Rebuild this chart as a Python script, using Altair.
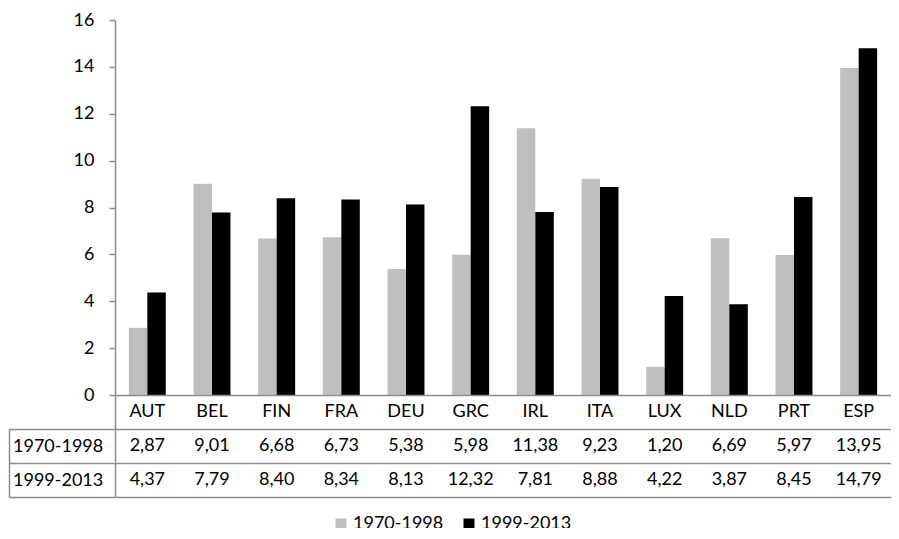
import altair as alt
import pandas as pd

countries = ["AUT", "BEL", "FIN", "FRA", "DEU", "GRC", "IRL", "ITA", "LUX", "NLD", "PRT", "ESP"]
series = ["1970-1998", "1999-2013"]
values_1970_1998 = [2.87, 9.01, 6.68, 6.73, 5.38, 5.98, 11.38, 9.23, 1.20, 6.69, 5.97, 13.95]
values_1999_2013 = [4.37, 7.79, 8.40, 8.34, 8.13, 12.32, 7.81, 8.88, 4.22, 3.87, 8.45, 14.79]
y_ticks = [0, 2, 4, 6, 8, 10, 12, 14, 16]
colors = ["#BFBFBF", "#000000"]

rows = []
for s, vals in zip(series, [values_1970_1998, values_1999_2013]):
    for c, v in zip(countries, vals):
        rows.append({"country": c, "series": s, "row": s, "value": v})
df = pd.DataFrame(rows)
hdr = pd.DataFrame({"country": countries, "row": ["hdr"] * len(countries)})
table_rows = ["hdr"] + series

FONT = "Lato"
FS = 18
GRID = "#8C8C8C"
LW = 1.5
VIEW_W = 776
ROW_H = 34

x_scale = alt.Scale(domain=countries, paddingInner=0, paddingOuter=0)
row_scale = alt.Scale(domain=table_rows, paddingInner=0, paddingOuter=0)

bars = alt.Chart(df).mark_bar().encode(
    x=alt.X("country:N", sort=countries, scale=x_scale, title=None, axis=None),
    xOffset=alt.XOffset("series:N", sort=series,
                        scale=alt.Scale(domain=series, paddingOuter=0.75, paddingInner=0)),
    y=alt.Y("value:Q", scale=alt.Scale(domain=[0, 16], nice=False), title=None,
            axis=alt.Axis(values=y_ticks, grid=False, domainColor=GRID, domainWidth=LW,
                          tickColor=GRID, tickWidth=LW, tickSize=6, labelPadding=15,
                          labelFontSize=FS, labelFont=FONT, labelColor="black")),
    color=alt.Color("series:N", sort=series,
                    scale=alt.Scale(domain=series, range=colors),
                    legend=alt.Legend(title=None, orient="none", direction="horizontal",
                                      legendX=217, legendY=495, symbolType="square",
                                      symbolSize=121, symbolStrokeWidth=0,
                                      labelFontSize=FS, labelFont=FONT, labelColor="black",
                                      columnPadding=16, labelOffset=3)),
).properties(width=VIEW_W, height=375)

# header row (country names) + table borders
hdr_text = alt.Chart(hdr).mark_text(fontSize=FS, font=FONT, color="black").encode(
    x=alt.X("country:N", sort=countries, scale=x_scale, title=None,
            axis=alt.Axis(orient="bottom", grid=True, gridColor=GRID, gridWidth=LW,
                          bandPosition=0, tickExtra=False, domain=False, ticks=False,
                          labels=False)),
    y=alt.Y("row:N", sort=table_rows, scale=row_scale, title=None,
            axis=alt.Axis(orient="left", grid=True, gridColor=GRID, gridWidth=LW,
                          tickBand="extent", domain=True, domainColor=GRID,
                          domainWidth=LW, ticks=False, labels=False)),
    text="country:N",
)

# value rows + row labels
val_text = alt.Chart(df).transform_calculate(
    label="replace(format(datum.value, '.2f'), '.', ',')"
).mark_text(fontSize=FS, font=FONT, color="black").encode(
    x=alt.X("country:N", sort=countries, scale=x_scale, axis=None),
    y=alt.Y("row:N", sort=table_rows, scale=row_scale, title=None,
            axis=alt.Axis(orient="left", values=series, grid=False, domain=False,
                          tickColor=GRID, tickWidth=LW, tickSize=106, tickBand="extent",
                          labelAlign="left", labelPadding=-3.5, labelBaseline="middle",
                          labelFontSize=FS, labelFont=FONT, labelColor="black")),
    text="label:N",
)

# outer left border of the row-label column
outer = alt.Chart(df).mark_text(opacity=0).encode(
    x=alt.X("country:N", sort=countries, scale=x_scale, axis=None),
    y=alt.Y("series:N", sort=series,
            scale=alt.Scale(domain=series, range=[ROW_H, 3 * ROW_H]), title=None,
            axis=alt.Axis(orient="left", offset=106, domainColor=GRID, domainWidth=LW,
                          ticks=False, labels=False, grid=False)),
    text=alt.value(""),
)

table = alt.layer(hdr_text, val_text, outer).resolve_scale(y="independent").resolve_axis(
    y="independent").properties(width=VIEW_W, height=3 * ROW_H)

chart = alt.vconcat(bars, table, spacing=0, bounds="flush").properties(
    padding={"left": 0, "top": 3, "right": 0, "bottom": -5}
).configure_view(stroke=None)

chart.save("out.html", embed_options={"renderer": "svg", "actions": False})
